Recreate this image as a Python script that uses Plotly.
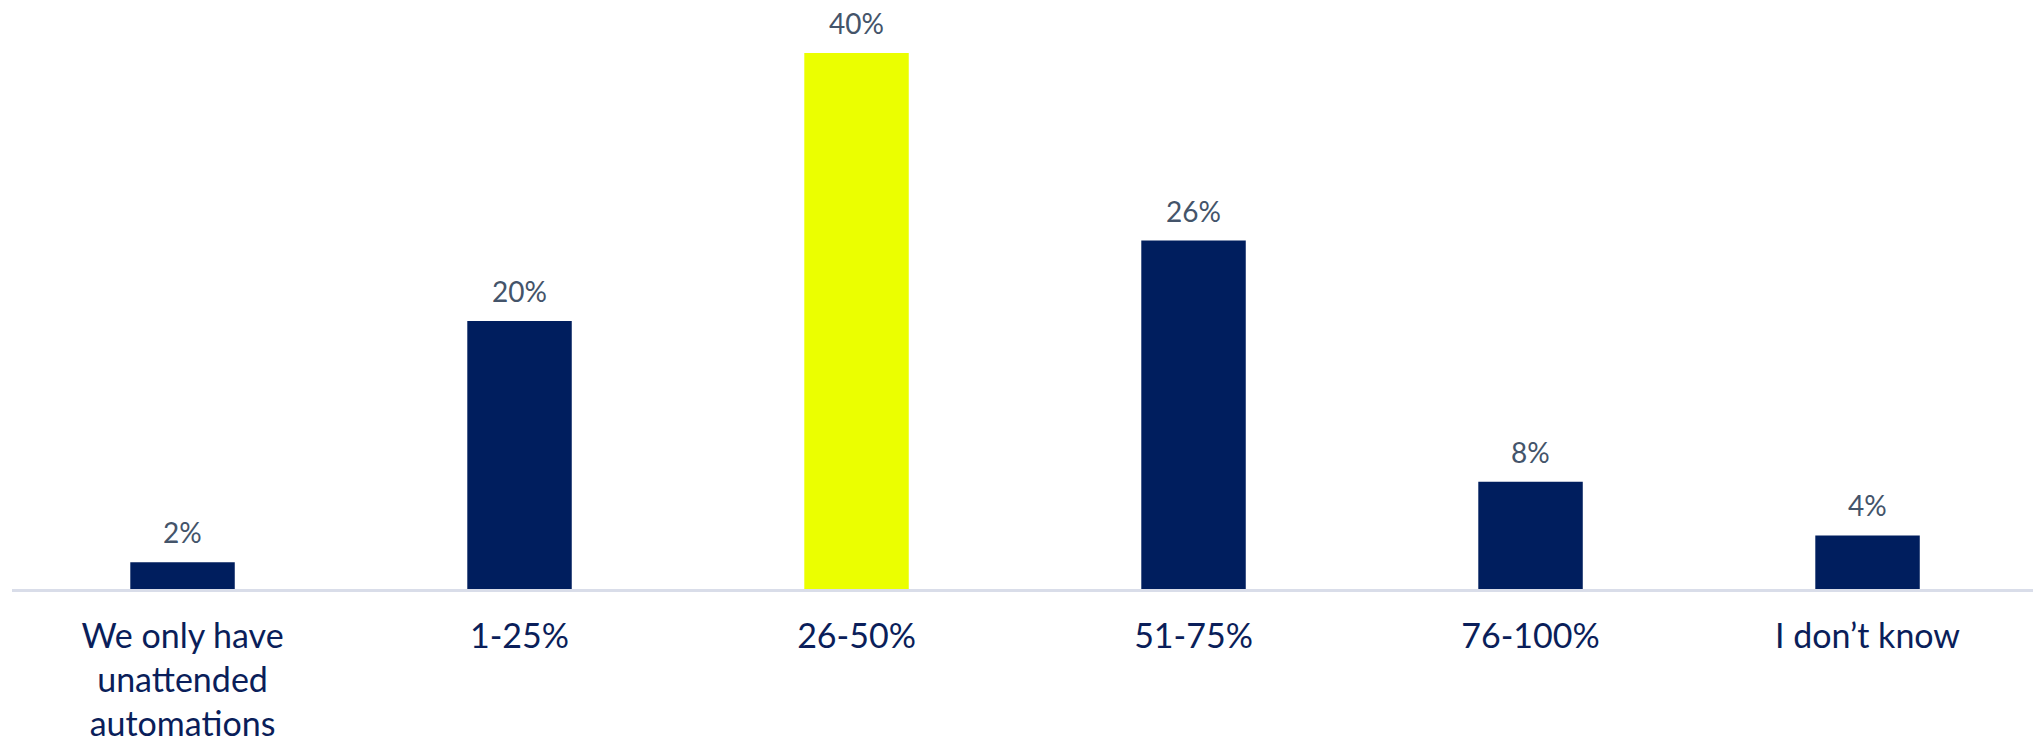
import plotly.graph_objects as go

categories = ["We only have unattended automations", "1-25%", "26-50%", "51-75%", "76-100%", "I don’t know"]
tick_labels = ["We only have<br>unattended<br>automations", "1-25%", "26-50%", "51-75%", "76-100%", "I don’t know"]
values = [2, 20, 40, 26, 8, 4]
highlight = "26-50%"

NAVY = "#001E5E"
YELLOW = "#EBFF00"
LABEL_GREY = "#44546A"
TEXT_NAVY = "#0A1E5A"
FONT = "Lato"

bar_colors = [YELLOW if c == highlight else NAVY for c in categories]

fig = go.Figure(
    go.Bar(
        x=categories,
        y=values,
        marker=dict(color=bar_colors, line=dict(width=0)),
        hoverinfo="skip",
    )
)

# value labels above each bar
for c, v in zip(categories, values):
    fig.add_annotation(
        x=c, y=v, text=f"{v}%", showarrow=False,
        yanchor="bottom", yshift=11,
        font=dict(family=FONT, size=28, color=LABEL_GREY),
    )

fig.update_layout(
    width=2033, height=743,
    margin=dict(l=12, r=0, t=0, b=154),
    plot_bgcolor="white", paper_bgcolor="white",
    bargap=0.69,
    showlegend=False,
    xaxis=dict(
        tickmode="array", tickvals=categories, ticktext=tick_labels,
        range=[-0.506, 5.491],
        showline=True, linecolor="#D9DDE9", linewidth=3,
        ticks="outside", ticklen=15, tickcolor="rgba(0,0,0,0)",
        tickfont=dict(family=FONT, size=34, color=TEXT_NAVY),
        showgrid=False, zeroline=False, fixedrange=True,
    ),
    yaxis=dict(
        range=[0, 43.95], visible=False, showgrid=False, zeroline=False,
    ),
)

fig.write_html("out.html")
